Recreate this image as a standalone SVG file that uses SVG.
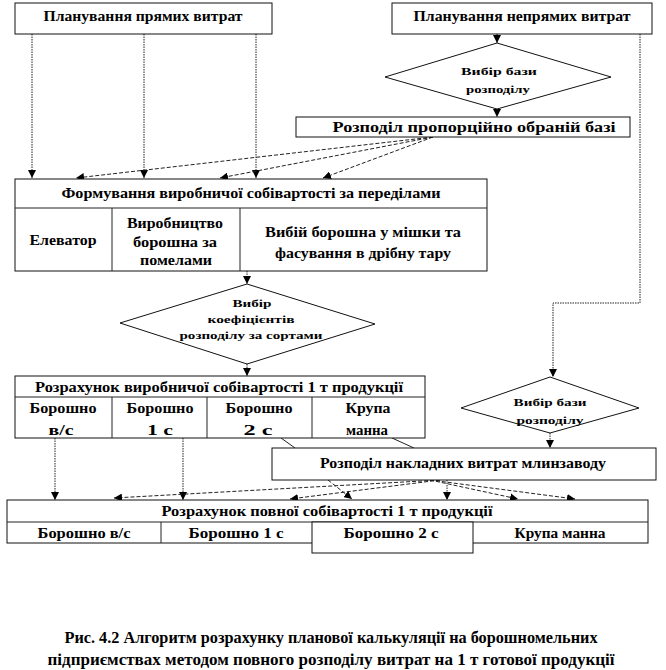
<svg xmlns="http://www.w3.org/2000/svg" width="666" height="670" viewBox="0 0 666 670">
<style>
.box{fill:#fff;stroke:#111;stroke-width:1}
.t{font-family:"Liberation Serif","Times New Roman",serif;font-weight:bold;fill:#000;text-anchor:middle}
.f14{font-size:15px}
.f10{font-size:10px}
.f15{font-size:16px}
.v{fill:none;stroke:#222;stroke-width:1;stroke-dasharray:1.5,1}
.d{fill:none;stroke:#222;stroke-width:1;stroke-dasharray:4,2}
.s{fill:none;stroke:#222;stroke-width:1}
</style>
<defs>
<marker id="ah" viewBox="0 0 10 10" refX="10" refY="5" markerWidth="8" markerHeight="8" orient="auto" markerUnits="userSpaceOnUse">
<path d="M0,0 L10,5 L0,10 z" fill="#000"/>
</marker>
</defs>
<rect width="666" height="670" fill="#fff"/>

<g id="connectors">
<path class="v" d="M32,34 V178" marker-end="url(#ah)"/>
<path class="v" d="M144,34 V178" marker-end="url(#ah)"/>
<path class="v" d="M256,34 V178" marker-end="url(#ah)"/>
<path class="v" d="M497,34 V43" marker-end="url(#ah)"/>
<path class="v" d="M497,109 V117" marker-end="url(#ah)"/>
<path class="d" d="M433,137 L76,178" marker-end="url(#ah)"/>
<path class="d" d="M433,137 L220,178" marker-end="url(#ah)"/>
<path class="d" d="M433,137 L323,178" marker-end="url(#ah)"/>
<path class="v" d="M640,34 V303 H553 V377" marker-end="url(#ah)"/>
<path class="v" d="M247,271 V284" marker-end="url(#ah)"/>
<path class="v" d="M247,364 V376" marker-end="url(#ah)"/>
<path class="v" d="M550,433 V448" marker-end="url(#ah)"/>
<path class="s" d="M281,438 L295,448"/>
<path class="s" d="M392,438 L414,448"/>
<path class="v" d="M55,438 V500" marker-end="url(#ah)"/>
<path class="v" d="M183,438 V500" marker-end="url(#ah)"/>
<path class="d" d="M440,480 L114,498" marker-end="url(#ah)"/>
<path class="d" d="M440,480 L290,499" marker-end="url(#ah)"/>
<path class="d" d="M328,480 L352,499" marker-end="url(#ah)"/>
<path class="v" d="M447,480 V500" marker-end="url(#ah)"/>
<path class="d" d="M430,480 L518,499" marker-end="url(#ah)"/>
<path class="d" d="M430,480 L575,499" marker-end="url(#ah)"/>
</g>

<g id="n-pryami">
<rect class="box" x="15" y="3" width="257" height="31"/>
<text class="t f14" x="143" y="21" textLength="199" lengthAdjust="spacingAndGlyphs">Планування  прямих  витрат</text>
</g>
<g id="n-nepryami">
<rect class="box" x="392" y="3" width="260" height="31"/>
<text class="t f14" x="522" y="21" textLength="217" lengthAdjust="spacingAndGlyphs">Планування  непрямих  витрат</text>
</g>
<g id="n-vybir1">
<polygon class="box" points="497,43 611,77 497,109 385,77"/>
<text class="t f10" x="499" y="75" textLength="76" lengthAdjust="spacingAndGlyphs">Вибір бази</text>
<text class="t f10" x="498" y="93" textLength="64" lengthAdjust="spacingAndGlyphs">розподілу</text>
</g>
<g id="n-rozpodil-prop">
<rect class="box" x="296" y="117" width="334" height="20"/>
<text class="t f14" x="474" y="132" textLength="283" lengthAdjust="spacingAndGlyphs">Розподіл пропорційно  обраній базі</text>
</g>
<g id="n-formuvannia">
<rect class="box" x="15" y="179" width="472" height="92"/>
<line class="s" x1="15" y1="208" x2="487" y2="208"/>
<line class="s" x1="112" y1="208" x2="112" y2="271"/>
<line class="s" x1="240" y1="208" x2="240" y2="271"/>
<text class="t f14" x="251" y="198" textLength="379" lengthAdjust="spacingAndGlyphs">Формування  виробничої  собівартості  за переділами</text>
<text class="t f14" x="63" y="245" textLength="67" lengthAdjust="spacingAndGlyphs">Елеватор</text>
<text class="t f14" x="175" y="228" textLength="96" lengthAdjust="spacingAndGlyphs">Виробництво</text>
<text class="t f14" x="175" y="247" textLength="84" lengthAdjust="spacingAndGlyphs">борошна  за</text>
<text class="t f14" x="176" y="265" textLength="72" lengthAdjust="spacingAndGlyphs">помелами</text>
<text class="t f14" x="363" y="237" textLength="196" lengthAdjust="spacingAndGlyphs">Вибій борошна у мішки та</text>
<text class="t f14" x="363" y="258" textLength="176" lengthAdjust="spacingAndGlyphs">фасування  в дрібну тару</text>
</g>
<g id="n-vybir2">
<polygon class="box" points="247,284 375,324 247,364 120,323"/>
<text class="t f10" x="252" y="307" textLength="39" lengthAdjust="spacingAndGlyphs">Вибір</text>
<text class="t f10" x="251" y="323" textLength="87" lengthAdjust="spacingAndGlyphs">коефіцієнтів</text>
<text class="t f10" x="251" y="339" textLength="143" lengthAdjust="spacingAndGlyphs">розподілу за сортами</text>
</g>
<g id="n-rozrahunok-vyr">
<rect class="box" x="15" y="376" width="410" height="62"/>
<line class="s" x1="15" y1="397" x2="425" y2="397"/>
<line class="s" x1="112" y1="397" x2="112" y2="438"/>
<line class="s" x1="207" y1="397" x2="207" y2="438"/>
<line class="s" x1="312" y1="397" x2="312" y2="438"/>
<text class="t f14" x="219" y="392" textLength="368" lengthAdjust="spacingAndGlyphs">Розрахунок  виробничої  собівартості  1 т  продукції</text>
<text class="t f14" x="63" y="413" textLength="67" lengthAdjust="spacingAndGlyphs">Борошно</text>
<text class="t f14" x="61" y="435" textLength="25" lengthAdjust="spacingAndGlyphs">в/с</text>
<text class="t f14" x="160" y="413" textLength="67" lengthAdjust="spacingAndGlyphs">Борошно</text>
<text class="t f14" x="160" y="435" textLength="26" lengthAdjust="spacingAndGlyphs">1 с</text>
<text class="t f14" x="259" y="413" textLength="67" lengthAdjust="spacingAndGlyphs">Борошно</text>
<text class="t f14" x="258" y="435" textLength="29" lengthAdjust="spacingAndGlyphs">2 с</text>
<text class="t f14" x="368" y="413" textLength="45" lengthAdjust="spacingAndGlyphs">Крупа</text>
<text class="t f14" x="367" y="435" textLength="42" lengthAdjust="spacingAndGlyphs">манна</text>
</g>
<g id="n-vybir3">
<polygon class="box" points="550,377 639,408 550,433 461,408"/>
<text class="t f10" x="550" y="406" textLength="73" lengthAdjust="spacingAndGlyphs">Вибір бази</text>
<text class="t f10" x="550" y="424" textLength="67" lengthAdjust="spacingAndGlyphs">розподілу</text>
</g>
<g id="n-rozpodil-nakl">
<rect class="box" x="272" y="448" width="384" height="32"/>
<text class="t f14" x="463" y="468" textLength="286" lengthAdjust="spacingAndGlyphs">Розподіл  накладних  витрат  млинзаводу</text>
</g>
<g id="n-rozrahunok-povn">
<rect class="box" x="7" y="500" width="641" height="43"/>
<line class="s" x1="7" y1="522" x2="648" y2="522"/>
<line class="s" x1="161" y1="522" x2="161" y2="543"/>
<rect class="box" x="312" y="522" width="161" height="31"/>
<text class="t f14" x="327" y="516" textLength="331" lengthAdjust="spacingAndGlyphs">Розрахунок  повної  собівартості  1 т  продукції</text>
<text class="t f14" x="84" y="538" textLength="93" lengthAdjust="spacingAndGlyphs">Борошно в/с</text>
<text class="t f14" x="236" y="538" textLength="95" lengthAdjust="spacingAndGlyphs">Борошно 1 с</text>
<text class="t f14" x="391" y="538" textLength="95" lengthAdjust="spacingAndGlyphs">Борошно 2 с</text>
<text class="t f14" x="560" y="538" textLength="91" lengthAdjust="spacingAndGlyphs">Крупа  манна</text>
</g>
<g id="caption">
<text class="t f15" x="331" y="643" textLength="533" lengthAdjust="spacingAndGlyphs">Рис. 4.2 Алгоритм розрахунку планової калькуляції на борошномельних</text>
<text class="t f15" x="331" y="665" textLength="567" lengthAdjust="spacingAndGlyphs">підприємствах методом повного розподілу витрат на 1 т готової продукції</text>
</g>
</svg>
